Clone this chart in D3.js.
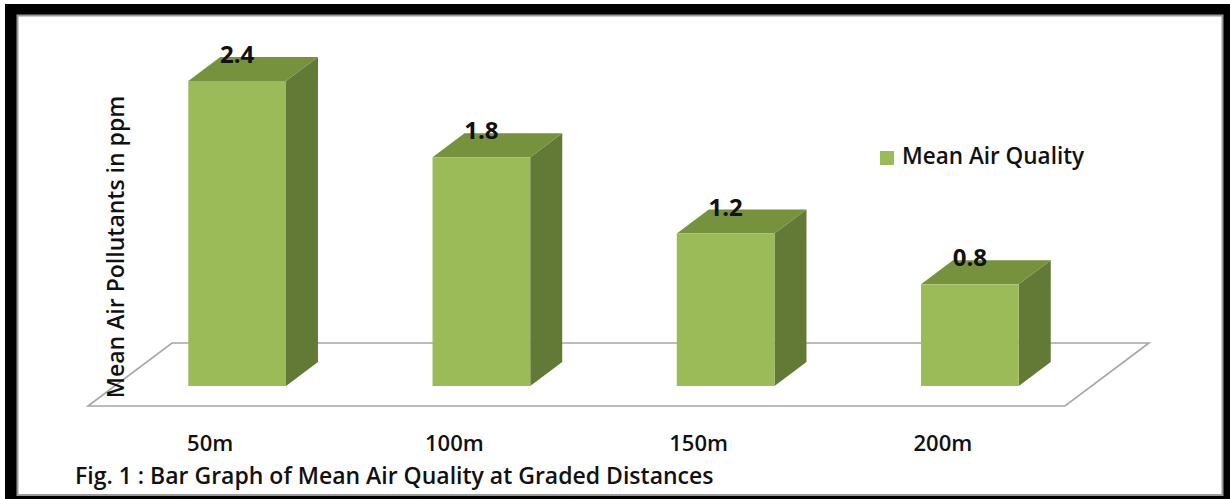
<!DOCTYPE html>
<html>
<head>
<meta charset="utf-8">
<script src="https://cdn.jsdelivr.net/npm/d3@7"></script>
<style>
  html, body { margin: 0; padding: 0; background: #fff; }
  svg { display: block; }
  text { font-family: "Open Sans", "Noto Sans", sans-serif; fill: #111; }
</style>
</head>
<body>
<svg id="chart" width="1230" height="499"></svg>
<script>
// Mean air pollutant concentration (ppm) by distance
const categories = ["50m", "100m", "150m", "200m"];
const meanAirQuality = [2.4, 1.8, 1.2, 0.8];
const seriesName = "Mean Air Quality";
const yAxisTitle = "Mean Air  Pollutants in ppm";
const caption = "Fig. 1 : Bar Graph of Mean Air Quality at Graded Distances";

const W = 1230, H = 499;
const svg = d3.select("#chart");

// Frame: black outer border with a thin grey inner edge
svg.append("rect").attr("x", 5).attr("y", 4).attr("width", W - 5).attr("height", H - 4).attr("fill", "#000");
svg.append("rect").attr("x", 17.5).attr("y", 15.5).attr("width", 1205).attr("height", 479.5)
  .attr("fill", "#fff").attr("stroke", "#9a9a9a").attr("stroke-width", 2);

// Scales
const x = d3.scaleBand().domain(categories).range([115, 1092]).paddingInner(0.6).paddingOuter(0.3);
const y = d3.scaleLinear().domain([0, 2.4]).range([386, 81]);

// 3-D projection offsets
const floorDepth = { dx: 84, dy: 63 };   // full floor depth
const frontInset = { dx: 27, dy: 20 };   // bar front plane behind the floor's front edge
const barDepth = { dx: 32, dy: 24 };     // depth of each bar

const colors = { front: "#9bbb59", top: "#76923c", side: "#637a36", floor: "#a6a6a6" };

// Floor parallelogram
const [r0, r1] = x.range();
const fy = y(0) + frontInset.dy;
const floorPts = [
  [r0 - frontInset.dx, fy],
  [r1 - frontInset.dx, fy],
  [r1 - frontInset.dx + floorDepth.dx, fy - floorDepth.dy],
  [r0 - frontInset.dx + floorDepth.dx, fy - floorDepth.dy]
];
svg.append("polygon")
  .attr("points", floorPts.map(p => p.join(",")).join(" "))
  .attr("fill", "#fff").attr("stroke", colors.floor).attr("stroke-width", 1.6);

// Bars
const data = categories.map((c, i) => ({ c, v: meanAirQuality[i] }));
const bw = x.bandwidth();
const bars = svg.append("g").selectAll("g").data(data).join("g");

bars.append("polygon") // side face
  .attr("points", d => {
    const x1 = x(d.c) + bw, yt = y(d.v), yb = y(0);
    return [[x1, yt], [x1 + barDepth.dx, yt - barDepth.dy], [x1 + barDepth.dx, yb - barDepth.dy], [x1, yb]]
      .map(p => p.join(",")).join(" ");
  })
  .attr("fill", colors.side);

bars.append("polygon") // top face
  .attr("points", d => {
    const x0 = x(d.c), x1 = x0 + bw, yt = y(d.v);
    return [[x0, yt], [x0 + barDepth.dx, yt - barDepth.dy], [x1 + barDepth.dx, yt - barDepth.dy], [x1, yt]]
      .map(p => p.join(",")).join(" ");
  })
  .attr("fill", colors.top);

bars.append("rect") // front face
  .attr("x", d => x(d.c)).attr("y", d => y(d.v))
  .attr("width", bw).attr("height", d => y(0) - y(d.v))
  .attr("fill", colors.front);

// Value labels
bars.append("text")
  .attr("x", d => x(d.c) + bw / 2).attr("y", d => y(d.v) - 18)
  .attr("text-anchor", "middle")
  .style("font-size", "24px").style("font-weight", 700)
  .text(d => d.v.toFixed(1));

// Category labels along the floor's front edge
svg.append("g").selectAll("text").data(categories).join("text")
  .attr("x", d => x(d) + bw / 2 - frontInset.dx)
  .attr("y", 451)
  .attr("text-anchor", "middle")
  .style("font-size", "22px").style("font-weight", 600)
  .text(d => d);

// Y-axis title
svg.append("text")
  .attr("transform", "translate(124,247) rotate(-90)")
  .attr("text-anchor", "middle")
  .style("font-size", "23px").style("font-weight", 600)
  .text(yAxisTitle);

// Legend
const legend = svg.append("g").attr("transform", "translate(880,151)");
legend.append("rect").attr("width", 14).attr("height", 14).attr("fill", colors.front);
legend.append("text").attr("x", 22).attr("y", 13)
  .style("font-size", "22.5px").style("font-weight", 600)
  .text(seriesName);

// Caption
svg.append("text")
  .attr("x", 75).attr("y", 484)
  .style("font-size", "23px").style("font-weight", 600)
  .text(caption);
</script>
</body>
</html>
